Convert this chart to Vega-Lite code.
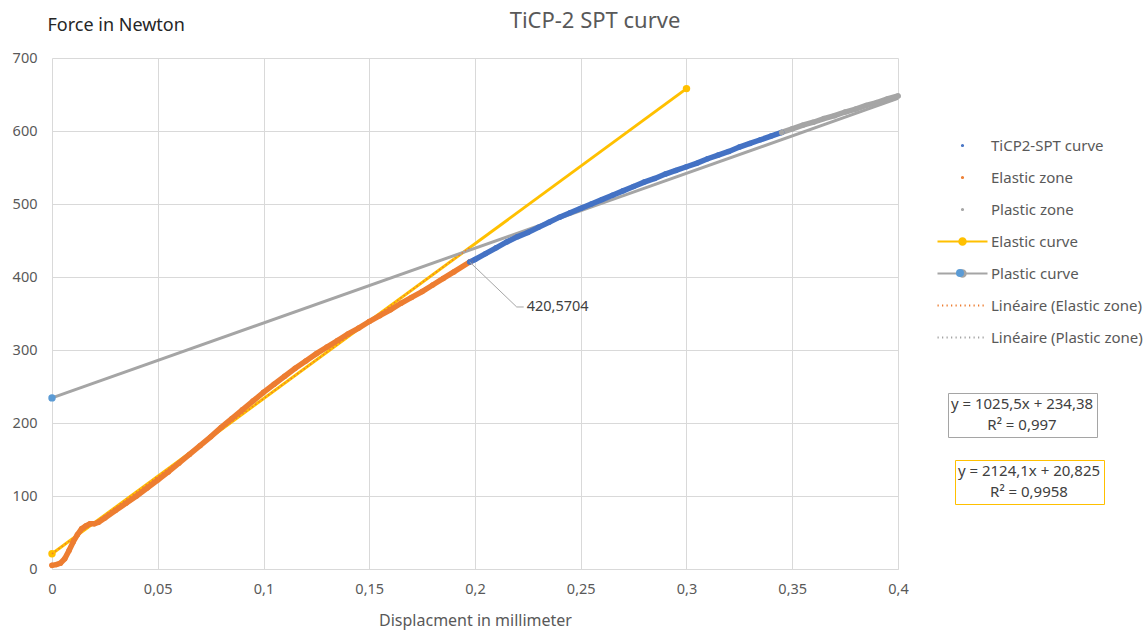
{
  "$schema": "https://vega.github.io/schema/vega-lite/v6.json",
  "width": 846,
  "height": 511,
  "autosize": {"type": "none"},
  "padding": {"left": 52, "top": 58, "right": 246, "bottom": 63},
  "background": "white",
  "config": {"view": {"stroke": null}, "font": "Noto Sans"},
  "title": {"text": "TiCP-2 SPT curve", "anchor": "middle", "frame": "group", "dx": 120, "offset": -17, "fontSize": 22, "fontWeight": "normal", "font": "Noto Sans", "color": "#595959"},
  "resolve": {"scale": {"strokeDash": "independent"}, "legend": {"strokeDash": "independent"}},
  "datasets": {
    "scatter": [
      {"series": "Elastic zone", "x": 0, "y": 5},
      {"series": "Elastic zone", "x": 0.002, "y": 6},
      {"series": "Elastic zone", "x": 0.004, "y": 8},
      {"series": "Elastic zone", "x": 0.006, "y": 14},
      {"series": "Elastic zone", "x": 0.008, "y": 25},
      {"series": "Elastic zone", "x": 0.01, "y": 37},
      {"series": "Elastic zone", "x": 0.012, "y": 47},
      {"series": "Elastic zone", "x": 0.014, "y": 55},
      {"series": "Elastic zone", "x": 0.016, "y": 59},
      {"series": "Elastic zone", "x": 0.018, "y": 62},
      {"series": "Elastic zone", "x": 0.02, "y": 62},
      {"series": "Elastic zone", "x": 0.022, "y": 64},
      {"series": "Elastic zone", "x": 0.025, "y": 70},
      {"series": "Elastic zone", "x": 0.03, "y": 80},
      {"series": "Elastic zone", "x": 0.035, "y": 90},
      {"series": "Elastic zone", "x": 0.04, "y": 100},
      {"series": "Elastic zone", "x": 0.045, "y": 111},
      {"series": "Elastic zone", "x": 0.05, "y": 122},
      {"series": "Elastic zone", "x": 0.055, "y": 133},
      {"series": "Elastic zone", "x": 0.06, "y": 145},
      {"series": "Elastic zone", "x": 0.065, "y": 157},
      {"series": "Elastic zone", "x": 0.07, "y": 169},
      {"series": "Elastic zone", "x": 0.075, "y": 181},
      {"series": "Elastic zone", "x": 0.08, "y": 194},
      {"series": "Elastic zone", "x": 0.085, "y": 206},
      {"series": "Elastic zone", "x": 0.09, "y": 218},
      {"series": "Elastic zone", "x": 0.095, "y": 230},
      {"series": "Elastic zone", "x": 0.1, "y": 242},
      {"series": "Elastic zone", "x": 0.105, "y": 253},
      {"series": "Elastic zone", "x": 0.11, "y": 264},
      {"series": "Elastic zone", "x": 0.115, "y": 275},
      {"series": "Elastic zone", "x": 0.12, "y": 285},
      {"series": "Elastic zone", "x": 0.125, "y": 295},
      {"series": "Elastic zone", "x": 0.13, "y": 304},
      {"series": "Elastic zone", "x": 0.135, "y": 313},
      {"series": "Elastic zone", "x": 0.14, "y": 322},
      {"series": "Elastic zone", "x": 0.145, "y": 330},
      {"series": "Elastic zone", "x": 0.15, "y": 339},
      {"series": "Elastic zone", "x": 0.155, "y": 347},
      {"series": "Elastic zone", "x": 0.16, "y": 355},
      {"series": "Elastic zone", "x": 0.165, "y": 364},
      {"series": "Elastic zone", "x": 0.17, "y": 372},
      {"series": "Elastic zone", "x": 0.175, "y": 380},
      {"series": "Elastic zone", "x": 0.18, "y": 389},
      {"series": "Elastic zone", "x": 0.185, "y": 398},
      {"series": "Elastic zone", "x": 0.19, "y": 407},
      {"series": "Elastic zone", "x": 0.1975, "y": 420.57},
      {"series": "TiCP2-SPT curve", "x": 0.1975, "y": 420.57},
      {"series": "TiCP2-SPT curve", "x": 0.2, "y": 424},
      {"series": "TiCP2-SPT curve", "x": 0.205, "y": 432},
      {"series": "TiCP2-SPT curve", "x": 0.21, "y": 440},
      {"series": "TiCP2-SPT curve", "x": 0.215, "y": 448},
      {"series": "TiCP2-SPT curve", "x": 0.22, "y": 455},
      {"series": "TiCP2-SPT curve", "x": 0.225, "y": 461},
      {"series": "TiCP2-SPT curve", "x": 0.23, "y": 468},
      {"series": "TiCP2-SPT curve", "x": 0.235, "y": 475},
      {"series": "TiCP2-SPT curve", "x": 0.24, "y": 482},
      {"series": "TiCP2-SPT curve", "x": 0.245, "y": 488},
      {"series": "TiCP2-SPT curve", "x": 0.25, "y": 494},
      {"series": "TiCP2-SPT curve", "x": 0.255, "y": 500},
      {"series": "TiCP2-SPT curve", "x": 0.26, "y": 506},
      {"series": "TiCP2-SPT curve", "x": 0.265, "y": 512},
      {"series": "TiCP2-SPT curve", "x": 0.27, "y": 518},
      {"series": "TiCP2-SPT curve", "x": 0.275, "y": 524},
      {"series": "TiCP2-SPT curve", "x": 0.28, "y": 530},
      {"series": "TiCP2-SPT curve", "x": 0.285, "y": 535},
      {"series": "TiCP2-SPT curve", "x": 0.29, "y": 541},
      {"series": "TiCP2-SPT curve", "x": 0.295, "y": 546},
      {"series": "TiCP2-SPT curve", "x": 0.3, "y": 551},
      {"series": "TiCP2-SPT curve", "x": 0.305, "y": 556},
      {"series": "TiCP2-SPT curve", "x": 0.31, "y": 562},
      {"series": "TiCP2-SPT curve", "x": 0.315, "y": 567},
      {"series": "TiCP2-SPT curve", "x": 0.32, "y": 572},
      {"series": "TiCP2-SPT curve", "x": 0.325, "y": 578},
      {"series": "TiCP2-SPT curve", "x": 0.33, "y": 583},
      {"series": "TiCP2-SPT curve", "x": 0.335, "y": 588},
      {"series": "TiCP2-SPT curve", "x": 0.34, "y": 593},
      {"series": "TiCP2-SPT curve", "x": 0.345, "y": 598},
      {"series": "Plastic zone", "x": 0.345, "y": 598},
      {"series": "Plastic zone", "x": 0.35, "y": 603},
      {"series": "Plastic zone", "x": 0.355, "y": 608},
      {"series": "Plastic zone", "x": 0.36, "y": 612},
      {"series": "Plastic zone", "x": 0.365, "y": 617},
      {"series": "Plastic zone", "x": 0.37, "y": 621},
      {"series": "Plastic zone", "x": 0.375, "y": 626},
      {"series": "Plastic zone", "x": 0.38, "y": 630},
      {"series": "Plastic zone", "x": 0.385, "y": 635},
      {"series": "Plastic zone", "x": 0.39, "y": 639},
      {"series": "Plastic zone", "x": 0.395, "y": 644},
      {"series": "Plastic zone", "x": 0.4, "y": 648}
    ],
    "curves": [
      {"series": "Elastic curve", "x": 0, "y": 20.825},
      {"series": "Elastic curve", "x": 0.3, "y": 658.05},
      {"series": "Plastic curve", "x": 0, "y": 234.38},
      {"series": "Plastic curve", "x": 0.4, "y": 644.58}
    ],
    "trend": [
      {"series": "Linéaire (Elastic zone)", "x": 0, "y": 20.825},
      {"series": "Linéaire (Elastic zone)", "x": 0.1975, "y": 440.34},
      {"series": "Linéaire (Plastic zone)", "x": 0.345, "y": 588.18},
      {"series": "Linéaire (Plastic zone)", "x": 0.4, "y": 644.58}
    ],
    "annot": [
      {"x": 0.1975, "y": 420.5704, "label": "420,5704"}
    ],
    "eq1": [
      {"eq": "y = 1025,5x + 234,38"},
      {"eq": "R² = 0,997"}
    ],
    "eq2": [
      {"eq": "y = 2124,1x + 20,825"},
      {"eq": "R² = 0,9958"}
    ],
    "marker": [
      {"m": "Plastic curve marker"}
    ]
  },
  "layer": [
    {
      "data": {"name": "curves"},
      "mark": {"type": "line", "strokeWidth": 3},
      "encoding": {
        "x": {"field": "x", "type": "quantitative", "scale": {"domain": [0, 0.4], "nice": false, "zero": false},
          "axis": {"values": [0, 0.05, 0.1, 0.15, 0.2, 0.25, 0.3, 0.35, 0.4], "labelExpr": "replace(toString(datum.value), '.', ',')", "grid": true, "gridColor": "#D9D9D9", "domainColor": "#D9D9D9", "ticks": false, "labelPadding": 13, "labelFontSize": 14.5, "labelColor": "#595959", "labelFont": "Noto Sans", "labelFlush": false, "title": "Displacment in millimeter", "titleFont": "Noto Sans", "titleFontSize": 16, "titleFontWeight": "normal", "titleColor": "#595959", "titlePadding": 17}},
        "y": {"field": "y", "type": "quantitative", "scale": {"domain": [0, 700], "nice": false},
          "axis": {"values": [0, 100, 200, 300, 400, 500, 600, 700], "grid": true, "gridColor": "#D9D9D9", "domain": false, "ticks": false, "labelPadding": 15, "labelFontSize": 14.5, "labelColor": "#595959", "labelFont": "Noto Sans", "title": "Force in Newton", "titleAngle": 0, "titleAlign": "left", "titleBaseline": "middle", "titleX": -5, "titleY": -33, "titleFont": "Noto Sans", "titleFontSize": 18, "titleFontWeight": "normal", "titleColor": "#262626"}},
        "color": {"field": "series", "type": "nominal",
          "scale": {"domain": ["TiCP2-SPT curve", "Elastic zone", "Plastic zone", "Elastic curve", "Plastic curve", "Linéaire (Elastic zone)", "Linéaire (Plastic zone)"], "range": ["#4472C4", "#ED7D31", "#A5A5A5", "#FFC000", "#A5A5A5", "#ED7D31", "#A5A5A5"]},
          "legend": {"orient": "none", "legendX": 903, "legendY": 80, "title": null, "labelFont": "Noto Sans", "labelFontSize": 15, "labelColor": "#595959", "symbolSize": 100, "symbolStrokeWidth": 2, "symbolOpacity": 1, "labelOffset": 21, "rowPadding": 16, "padding": 0, "labelLimit": 250}}
      }
    },
    {
      "data": {"name": "curves"},
      "transform": [{"filter": "datum.x < 0.4"}],
      "mark": {"type": "point", "filled": true, "size": 55, "opacity": 1},
      "encoding": {
        "x": {"field": "x", "type": "quantitative"},
        "y": {"field": "y", "type": "quantitative"},
        "color": {"field": "series", "type": "nominal"},
        "fill": {"condition": {"test": "datum.series === 'Plastic curve'", "value": "#5B9BD5"}, "value": "#FFC000"}
      }
    },
    {
      "data": {"name": "scatter"},
      "mark": {"type": "line", "strokeWidth": 5.5, "strokeCap": "round"},
      "encoding": {
        "x": {"field": "x", "type": "quantitative"},
        "y": {"field": "y", "type": "quantitative"},
        "color": {"field": "series", "type": "nominal"}
      }
    },
    {
      "data": {"name": "scatter"},
      "mark": {"type": "point", "filled": true, "size": 30, "opacity": 1},
      "encoding": {
        "x": {"field": "x", "type": "quantitative"},
        "y": {"field": "y", "type": "quantitative"},
        "color": {"field": "series", "type": "nominal"}
      }
    },
    {
      "data": {"name": "trend"},
      "mark": {"type": "line", "strokeWidth": 1.5, "strokeDash": [1.5, 2.5]},
      "encoding": {
        "x": {"field": "x", "type": "quantitative"},
        "y": {"field": "y", "type": "quantitative"},
        "color": {"field": "series", "type": "nominal"}
      }
    },
    {
      "data": {"name": "trend"},
      "transform": [{"filter": "false"}],
      "mark": {"type": "point", "filled": true},
      "encoding": {
        "x": {"field": "x", "type": "quantitative"},
        "y": {"field": "y", "type": "quantitative"},
        "color": {"field": "series", "type": "nominal"},
        "shape": {"field": "series", "type": "nominal",
          "scale": {"domain": ["TiCP2-SPT curve", "Elastic zone", "Plastic zone", "Elastic curve", "Plastic curve", "Linéaire (Elastic zone)", "Linéaire (Plastic zone)"],
            "range": [
              "M0.12,0A0.12,0.12 0 1 1 -0.12,0A0.12,0.12 0 1 1 0.12,0Z",
              "M0.12,0A0.12,0.12 0 1 1 -0.12,0A0.12,0.12 0 1 1 0.12,0Z",
              "M0.12,0A0.12,0.12 0 1 1 -0.12,0A0.12,0.12 0 1 1 0.12,0Z",
              "M-5,0H5M0.65,0A0.65,0.65 0 1 1 -0.65,0A0.65,0.65 0 1 1 0.65,0Z",
              "M-5,0H5M0.65,0A0.65,0.65 0 1 1 -0.65,0A0.65,0.65 0 1 1 0.65,0Z",
              "M-5,0h0.25M-4.1,0h0.25M-3.2,0h0.25M-2.3,0h0.25M-1.4,0h0.25M-0.5,0h0.25M0.4,0h0.25M1.3,0h0.25M2.2,0h0.25M3.1,0h0.25M4,0h0.25",
              "M-5,0h0.25M-4.1,0h0.25M-3.2,0h0.25M-2.3,0h0.25M-1.4,0h0.25M-0.5,0h0.25M0.4,0h0.25M1.3,0h0.25M2.2,0h0.25M3.1,0h0.25M4,0h0.25"
            ]}}
      }
    },
    {
      "data": {"name": "annot"},
      "mark": {"type": "rule", "color": "#A6A6A6", "strokeWidth": 1, "x2Offset": 47, "y2Offset": 45},
      "encoding": {
        "x": {"field": "x", "type": "quantitative"},
        "y": {"field": "y", "type": "quantitative"},
        "x2": {"field": "x"},
        "y2": {"field": "y"}
      }
    },
    {
      "data": {"name": "annot"},
      "mark": {"type": "rule", "color": "#A6A6A6", "strokeWidth": 1, "xOffset": 47, "yOffset": 45, "x2Offset": 54, "y2Offset": 45},
      "encoding": {
        "x": {"field": "x", "type": "quantitative"},
        "y": {"field": "y", "type": "quantitative"},
        "x2": {"field": "x"},
        "y2": {"field": "y"}
      }
    },
    {
      "data": {"name": "annot"},
      "mark": {"type": "text", "align": "left", "baseline": "middle", "dx": 57, "dy": 45, "fontSize": 14.5, "font": "Noto Sans", "color": "#404040"},
      "encoding": {
        "x": {"field": "x", "type": "quantitative"},
        "y": {"field": "y", "type": "quantitative"},
        "text": {"field": "label"}
      }
    },
    {
      "data": {"name": "eq1"},
      "mark": {"type": "point", "opacity": 0},
      "encoding": {
        "strokeDash": {"field": "eq", "type": "nominal", "scale": {"domain": ["y = 1025,5x + 234,38", "R² = 0,997"]},
          "legend": {"orient": "none", "legendX": 896, "legendY": 335, "title": null, "titlePadding": 0, "symbolSize": 0, "symbolOpacity": 0, "symbolStrokeWidth": 0, "labelAlign": "center", "labelFontSize": 15, "labelFont": "Noto Sans", "labelColor": "#404040", "strokeColor": "#A5A5A5", "fillColor": "white", "padding": 3.5, "rowPadding": 5, "labelOffset": 55.5, "labelLimit": 300}}
      }
    },
    {
      "data": {"name": "eq2"},
      "mark": {"type": "point", "opacity": 0},
      "encoding": {
        "strokeDash": {"field": "eq", "type": "nominal", "scale": {"domain": ["y = 2124,1x + 20,825", "R² = 0,9958"]},
          "legend": {"orient": "none", "legendX": 903, "legendY": 402, "title": null, "titlePadding": 0, "symbolSize": 0, "symbolOpacity": 0, "symbolStrokeWidth": 0, "labelAlign": "center", "labelFontSize": 15, "labelFont": "Noto Sans", "labelColor": "#404040", "strokeColor": "#FFC000", "fillColor": "white", "padding": 3.5, "rowPadding": 5, "labelOffset": 55.5, "labelLimit": 300}}
      }
    },
    {
      "data": {"name": "marker"},
      "transform": [{"filter": "false"}],
      "mark": {"type": "point", "filled": true, "color": "#5B9BD5"},
      "encoding": {
        "strokeDash": {"field": "m", "type": "nominal", "scale": {"domain": ["Plastic curve marker"]},
          "legend": {"orient": "none", "legendX": 904, "legendY": 211, "title": null, "symbolType": "circle", "symbolSize": 64, "symbolOpacity": 1, "symbolStrokeWidth": 0, "symbolFillColor": "#5B9BD5", "labelOpacity": 0, "labelFontSize": 1, "padding": 0, "labelOffset": 0}}
      }
    }
  ]
}
